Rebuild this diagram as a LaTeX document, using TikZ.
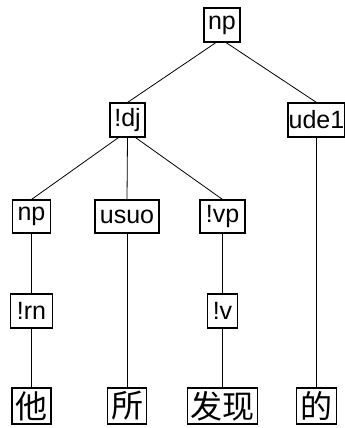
\documentclass[tikz,border=0pt]{standalone}
\usepackage{fontspec}
\setmainfont{Liberation Sans}
\newfontfamily\cjk{Noto Sans CJK SC}
\begin{document}
\begin{tikzpicture}[x=1pt,y=-1pt,
    cat/.style={draw, line width=1.1pt, inner sep=0pt, minimum height=34pt,
        font=\fontsize{25}{25}\selectfont},
    word/.style={draw, line width=1.1pt, inner sep=0pt, minimum height=36pt,
        font=\cjk\fontsize{32}{32}\selectfont},
    edge/.style={line width=0.8pt}]
    \useasboundingbox (0,0) rectangle (345,428);

    % categories
    \node[cat, minimum width=36pt] (root) at (222,25) {np};
    \node[cat, minimum width=35pt] (dj) at (127.5,120) {!dj};
    \node[cat, minimum width=57pt] (ude) at (316.5,120) {ude1};
    \node[cat, minimum width=38pt, minimum height=33pt] (np) at (31.5,216.5) {np};
    \node[cat, minimum width=64pt, minimum height=33pt] (usuo) at (127,216.5) {usuo};
    \node[cat, minimum width=45pt, minimum height=33pt] (vp) at (222.5,216.5) {!vp};
    \node[cat, minimum width=42pt] (rn) at (31.5,311) {!rn};
    \node[cat, minimum width=30pt] (v) at (222.5,311) {!v};

    % words
    \node[word, minimum width=39pt] (ta) at (31.5,406) {他};
    \node[word, minimum width=39pt] (suo) at (127,406) {所};
    \node[word, minimum width=70pt] (faxian) at (222.5,406) {发现};
    \node[word, minimum width=40pt] (de) at (316.5,406) {的};

    % edges
    \draw[edge] ([xshift=-6pt]root.south) -- (dj.north);
    \draw[edge] ([xshift=4pt]root.south) -- (ude.north);
    \draw[edge] ([xshift=-9pt]dj.south) -- (np.north);
    \draw[edge] (dj.south) -- (usuo.north);
    \draw[edge] ([xshift=8pt]dj.south) -- (vp.north);
    \draw[edge] (ude.south) -- (de.north);
    \draw[edge] (np.south) -- (rn.north);
    \draw[edge] (rn.south) -- (ta.north);
    \draw[edge] (usuo.south) -- (suo.north);
    \draw[edge] (vp.south) -- (v.north);
    \draw[edge] (v.south) -- (faxian.north);
\end{tikzpicture}
\end{document}
